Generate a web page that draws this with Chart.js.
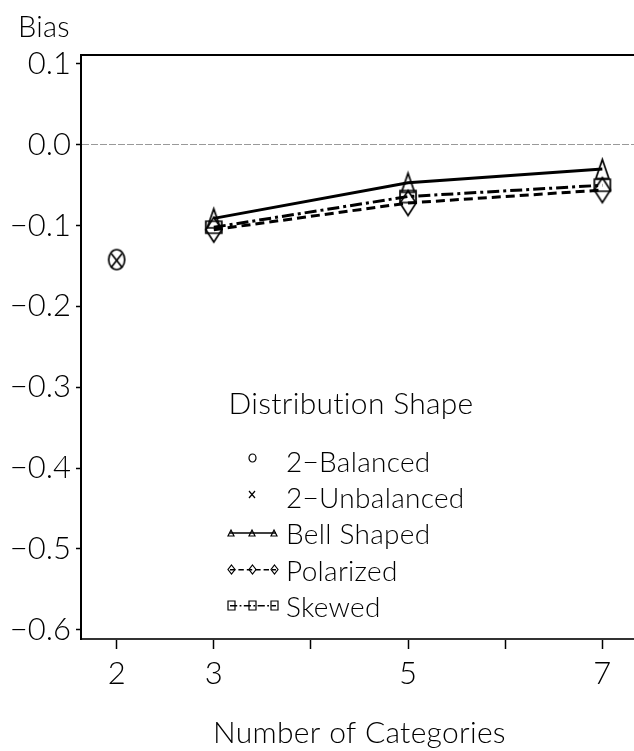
<!DOCTYPE html>
<html>
<head>
<meta charset="utf-8">
<title>Bias by Number of Categories</title>
<script src="https://cdn.jsdelivr.net/npm/chart.js@4.4.1/dist/chart.umd.min.js"></script>
<style>
  html, body { margin: 0; padding: 0; background: #fff; }
</style>
</head>
<body>
<canvas id="biasChart" width="634" height="751"></canvas>
<script>
// x axis: number of categories
const xTicks = [2, 3, 4, 5, 6, 7];
const xTickLabels = { 2: '2', 3: '3', 5: '5', 7: '7' };
const yTicks = [0.1, 0.0, -0.1, -0.2, -0.3, -0.4, -0.5, -0.6];

// two-category designs (single point at x = 2)
const twoCatX = [2];
const balanced = [-0.142];
const unbalanced = [-0.143];

// multi-category designs
const multiCatX = [3, 5, 7];
const bellShaped = [-0.091, -0.047, -0.030];
const polarized = [-0.105, -0.072, -0.056];
const skewed = [-0.102, -0.064, -0.050];

const seriesNames = ['2\u2212Balanced', '2\u2212Unbalanced', 'Bell Shaped', 'Polarized', 'Skewed'];

const FONT = "Lato, 'Liberation Sans', sans-serif";
Chart.defaults.font.family = FONT;
Chart.defaults.font.weight = 300;
Chart.defaults.color = '#000';

// Hollow marker drawn on a small canvas, used as pointStyle
function makeMarker(kind, w, h, lw) {
    const pad = Math.ceil(lw) + 1;
    const c = document.createElement('canvas');
    c.width = w + pad * 2;
    c.height = h + pad * 2;
    const g = c.getContext('2d');
    g.strokeStyle = '#000';
    g.lineWidth = lw;
    g.translate(pad, pad);
    g.beginPath();
    if (kind === 'circle') {
        g.ellipse(w / 2, h / 2, w / 2, h / 2, 0, 0, Math.PI * 2);
    } else if (kind === 'cross') {
        g.moveTo(0, 0); g.lineTo(w, h);
        g.moveTo(w, 0); g.lineTo(0, h);
    } else if (kind === 'triangle') {
        g.moveTo(w / 2, 0); g.lineTo(w, h); g.lineTo(0, h); g.closePath();
    } else if (kind === 'diamond') {
        g.moveTo(w / 2, 0); g.lineTo(w, h / 2); g.lineTo(w / 2, h); g.lineTo(0, h / 2); g.closePath();
    } else if (kind === 'square') {
        g.rect(0, 0, w, h);
    }
    g.stroke();
    return c;
}

const markers = {
    circle: makeMarker('circle', 16, 20, 1.7),
    cross: makeMarker('cross', 11, 14, 1.7),
    triangle: makeMarker('triangle', 13, 19, 1.7),
    diamond: makeMarker('diamond', 16, 25, 1.7),
    square: makeMarker('square', 16, 12, 1.7)
};
const legendMarkers = {
    circle: makeMarker('circle', 7, 8, 1.2),
    cross: makeMarker('cross', 6, 7, 1.2),
    triangle: makeMarker('triangle', 6, 6, 1.2),
    diamond: makeMarker('diamond', 7, 9, 1.2),
    square: makeMarker('square', 7, 9, 1.2)
};

const toPoints = (xs, ys) => xs.map((x, i) => ({ x: x, y: ys[i] }));

const datasets = [
    { label: seriesNames[0], data: toPoints(twoCatX, balanced), showLine: false, pointStyle: markers.circle, mk: 'circle' },
    { label: seriesNames[1], data: toPoints(twoCatX, unbalanced), showLine: false, pointStyle: markers.cross, mk: 'cross' },
    { label: seriesNames[2], data: toPoints(multiCatX, bellShaped), showLine: true, borderDash: [], pointStyle: markers.triangle, mk: 'triangle' },
    { label: seriesNames[3], data: toPoints(multiCatX, polarized), showLine: true, borderDash: [9, 5], pointStyle: markers.diamond, mk: 'diamond' },
    { label: seriesNames[4], data: toPoints(multiCatX, skewed), showLine: true, borderDash: [12, 4, 3, 4], pointStyle: markers.square, mk: 'square' }
].map(ds => Object.assign({
    borderColor: '#000',
    backgroundColor: '#000',
    borderWidth: 3,
    tension: 0,
    pointRadius: 10
}, ds));

const xMin = 1.633, xMax = 7.326;

// Axis titles and the in-plot legend
const annotations = {
    id: 'annotations',
    afterDraw(chart) {
        const { ctx, chartArea } = chart;
        ctx.save();
        ctx.fillStyle = '#000';
        ctx.textBaseline = 'alphabetic';
        ctx.letterSpacing = '0.3px'; // keeps Lato from joining "ti"

        ctx.font = `300 29px ${FONT}`;
        ctx.textAlign = 'left';
        ctx.fillText('Bias', 18, 37);

        ctx.font = `300 30px ${FONT}`;
        ctx.textAlign = 'center';
        ctx.fillText('Number of Categories', (chartArea.left + chartArea.right) / 2 + 2, 743);

        // legend
        ctx.fillText('Distribution Shape', 351, 414);

        ctx.font = `300 28px ${FONT}`;
        ctx.textAlign = 'left';
        const rows = [471.7, 508.3, 544, 580.7, 616.7];
        chart.data.datasets.forEach((ds, i) => {
            const base = rows[i];
            ctx.fillText(ds.label, 286, base);
            const img = legendMarkers[ds.mk];
            const my = base - 11;
            if (ds.showLine) {
                ctx.save();
                ctx.strokeStyle = '#000';
                ctx.lineWidth = 1.5;
                ctx.setLineDash(ds.borderDash.map(d => d * 0.6));
                ctx.beginPath();
                ctx.moveTo(230, my);
                ctx.lineTo(276, my);
                ctx.stroke();
                ctx.restore();
                [231, 252, 274].forEach(mx => {
                    ctx.drawImage(img, Math.round(mx - img.width / 2), Math.round(my - img.height / 2));
                });
            } else {
                ctx.drawImage(img, Math.round(252 - img.width / 2), Math.round(base - 14 - img.height / 2));
            }
        });
        ctx.restore();
    }
};

const fmtY = v => {
    if (Math.abs(v) < 1e-9) return '0.0';
    return (v < 0 ? '\u2212' : '') + Math.abs(v).toFixed(1);
};

const chart = new Chart(document.getElementById('biasChart'), {
    type: 'scatter',
    data: { datasets: datasets },
    options: {
        responsive: false,
        animation: false,
        layout: { autoPadding: false, padding: { top: 55, left: 0, right: 0, bottom: 0 } },
        plugins: {
            legend: { display: false },
            tooltip: { enabled: false }
        },
        scales: {
            x: {
                type: 'linear',
                position: 'bottom',
                min: xMin,
                max: xMax,
                afterBuildTicks: s => { s.ticks = xTicks.map(v => ({ value: v })); },
                afterFit: s => { s.height = 112; },
                grid: { display: true, drawOnChartArea: false, drawTicks: true, tickLength: 10, tickColor: '#000', tickWidth: 1.5 },
                border: { display: true, color: '#333', width: 2 },
                ticks: {
                    autoSkip: false,
                    maxRotation: 0,
                    padding: 6,
                    font: { size: 31 },
                    callback: v => xTickLabels[v] || ''
                }
            },
            xTop: {
                type: 'linear',
                position: 'top',
                min: xMin,
                max: xMax,
                afterFit: s => { s.height = 0; },
                grid: { display: false, drawTicks: false },
                ticks: { display: false },
                border: { display: true, color: '#000', width: 2 }
            },
            y: {
                type: 'linear',
                min: -0.6114,
                max: 0.1111,
                afterBuildTicks: s => { s.ticks = yTicks.map(v => ({ value: v })); },
                afterFit: s => { s.width = 81; },
                grid: {
                    color: c => (c.tick && Math.abs(c.tick.value) < 1e-9) ? '#999' : 'rgba(0,0,0,0)',
                    lineWidth: 1,
                    tickLength: 5,
                    tickColor: '#000',
                    tickWidth: 1.5
                },
                border: { display: true, color: '#000', width: 2, dash: [7, 2] },
                ticks: {
                    padding: 5,
                    font: { size: 31 },
                    callback: v => fmtY(v)
                }
            }
        }
    },
    plugins: [annotations]
});
</script>
</body>
</html>
